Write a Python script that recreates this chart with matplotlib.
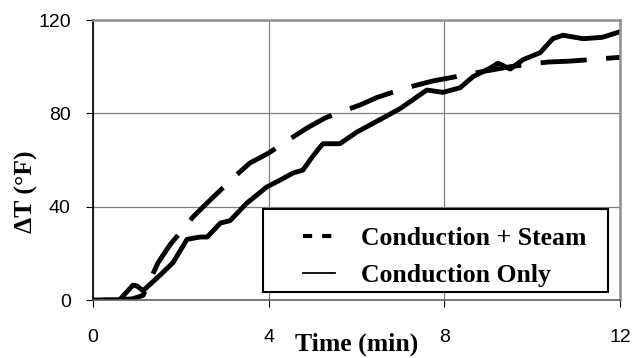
import matplotlib.pyplot as plt
from matplotlib.lines import Line2D
from matplotlib.patches import Rectangle

plt.rcParams["font.family"] = "Liberation Sans"

# Conduction + Steam (dashed)
steam_t = [0.2, 0.5, 0.9, 1.14, 1.48, 1.75, 2.28, 2.62, 3.23, 3.57, 4.0, 4.4, 4.87,
           5.28, 5.7, 6.08, 6.49, 6.9, 7.29, 7.74, 8.2, 8.6, 9.08, 9.5, 9.9, 10.36,
           10.86, 11.3, 11.7, 12.0]
steam_dt = [0.0, 0.0, 0.5, 2.0, 16.0, 23.6, 35.7, 42.0, 53.0, 58.7, 63.0, 68.0, 73.7,
            78.0, 81.0, 83.6, 87.0, 89.5, 91.7, 93.9, 95.5, 97.0, 98.6, 100.0, 101.0, 102.0,
            102.4, 103.0, 103.6, 104.0]

# Conduction only (solid)
cond_t = [0.0, 0.3, 0.6, 0.91, 1.0, 1.14, 1.53, 1.82, 2.14, 2.44, 2.6, 2.9, 3.12, 3.5,
          3.96, 4.26, 4.55, 4.78, 4.94, 5.17, 5.24, 5.62, 6.01, 6.5, 6.99, 7.6, 7.97,
          8.36, 8.65, 9.04, 9.22, 9.5, 9.79, 10.18, 10.47, 10.7, 11.16, 11.6, 12.0]
cond_dt = [0.0, 0.0, 0.0, 6.4, 6.0, 4.0, 10.7, 16.0, 26.0, 27.0, 27.0, 33.0, 34.0, 41.5,
           48.5, 51.4, 54.4, 55.7, 60.0, 65.6, 67.0, 67.0, 72.0, 77.0, 82.0, 90.0, 89.0,
           91.0, 95.7, 99.4, 101.5, 99.0, 103.0, 106.0, 112.0, 113.5, 112.0, 112.6, 115.0]

labels = ["Conduction + Steam", "Conduction Only"]
xticks = [0, 4, 8, 12]
yticks = [0, 40, 80, 120]

fig = plt.figure(figsize=(6.33, 3.58), dpi=100)
ax = fig.add_axes([0.147, 0.162, 0.8325, 0.782])

ax.plot(steam_t, steam_dt, color="k", lw=3.5, dashes=(9.5, 4))
ax.plot(cond_t, cond_dt, color="k", lw=3.5)

ax.set_xlim(0, 12)
ax.set_ylim(0, 120)
ax.set_xticks(xticks)
ax.set_yticks(yticks)
ax.grid(True, color="#808080", lw=0.9)
ax.set_axisbelow(True)

for s in ["top", "right"]:
    ax.spines[s].set_color("#909090")
    ax.spines[s].set_linewidth(1.8)
ax.spines["left"].set_color("k")
ax.spines["left"].set_linewidth(1.2)
ax.spines["bottom"].set_color("#606060")
ax.spines["bottom"].set_linewidth(1.2)

ax.tick_params(axis="y", direction="out", length=5, labelsize=14, pad=11)
ax.tick_params(axis="x", direction="out", length=5, labelsize=14, pad=16)

ax.set_xlabel("Time (min)", fontfamily="Liberation Serif", fontweight="bold", fontsize=18.5)
ax.xaxis.set_label_coords(0.5, -0.115)
ax.set_ylabel("ΔT (°F)", fontfamily="Liberation Serif", fontweight="bold", fontsize=18.5)
ax.yaxis.set_label_coords(-0.105, 0.385)

# legend box drawn by hand (Excel style: wide left margin)
box = Rectangle((0.323, 0.029), 0.654, 0.296, transform=ax.transAxes,
                facecolor="white", edgecolor="k", lw=1.5, zorder=4)
ax.add_patch(box)

handles = [Line2D([], [], color="k", lw=3, dashes=(2.2, 2.4)),
           Line2D([], [], color="k", lw=1.3)]
leg = ax.legend(handles, labels, loc="upper left", bbox_to_anchor=(0.398, 0.26),
                borderaxespad=0, borderpad=0, frameon=False,
                prop={"family": "Liberation Serif", "weight": "bold", "size": 18.5},
                handlelength=1.25, handletextpad=1.0, labelspacing=0.54)
leg.set_zorder(5)

fig.savefig("out.png", dpi=100)
